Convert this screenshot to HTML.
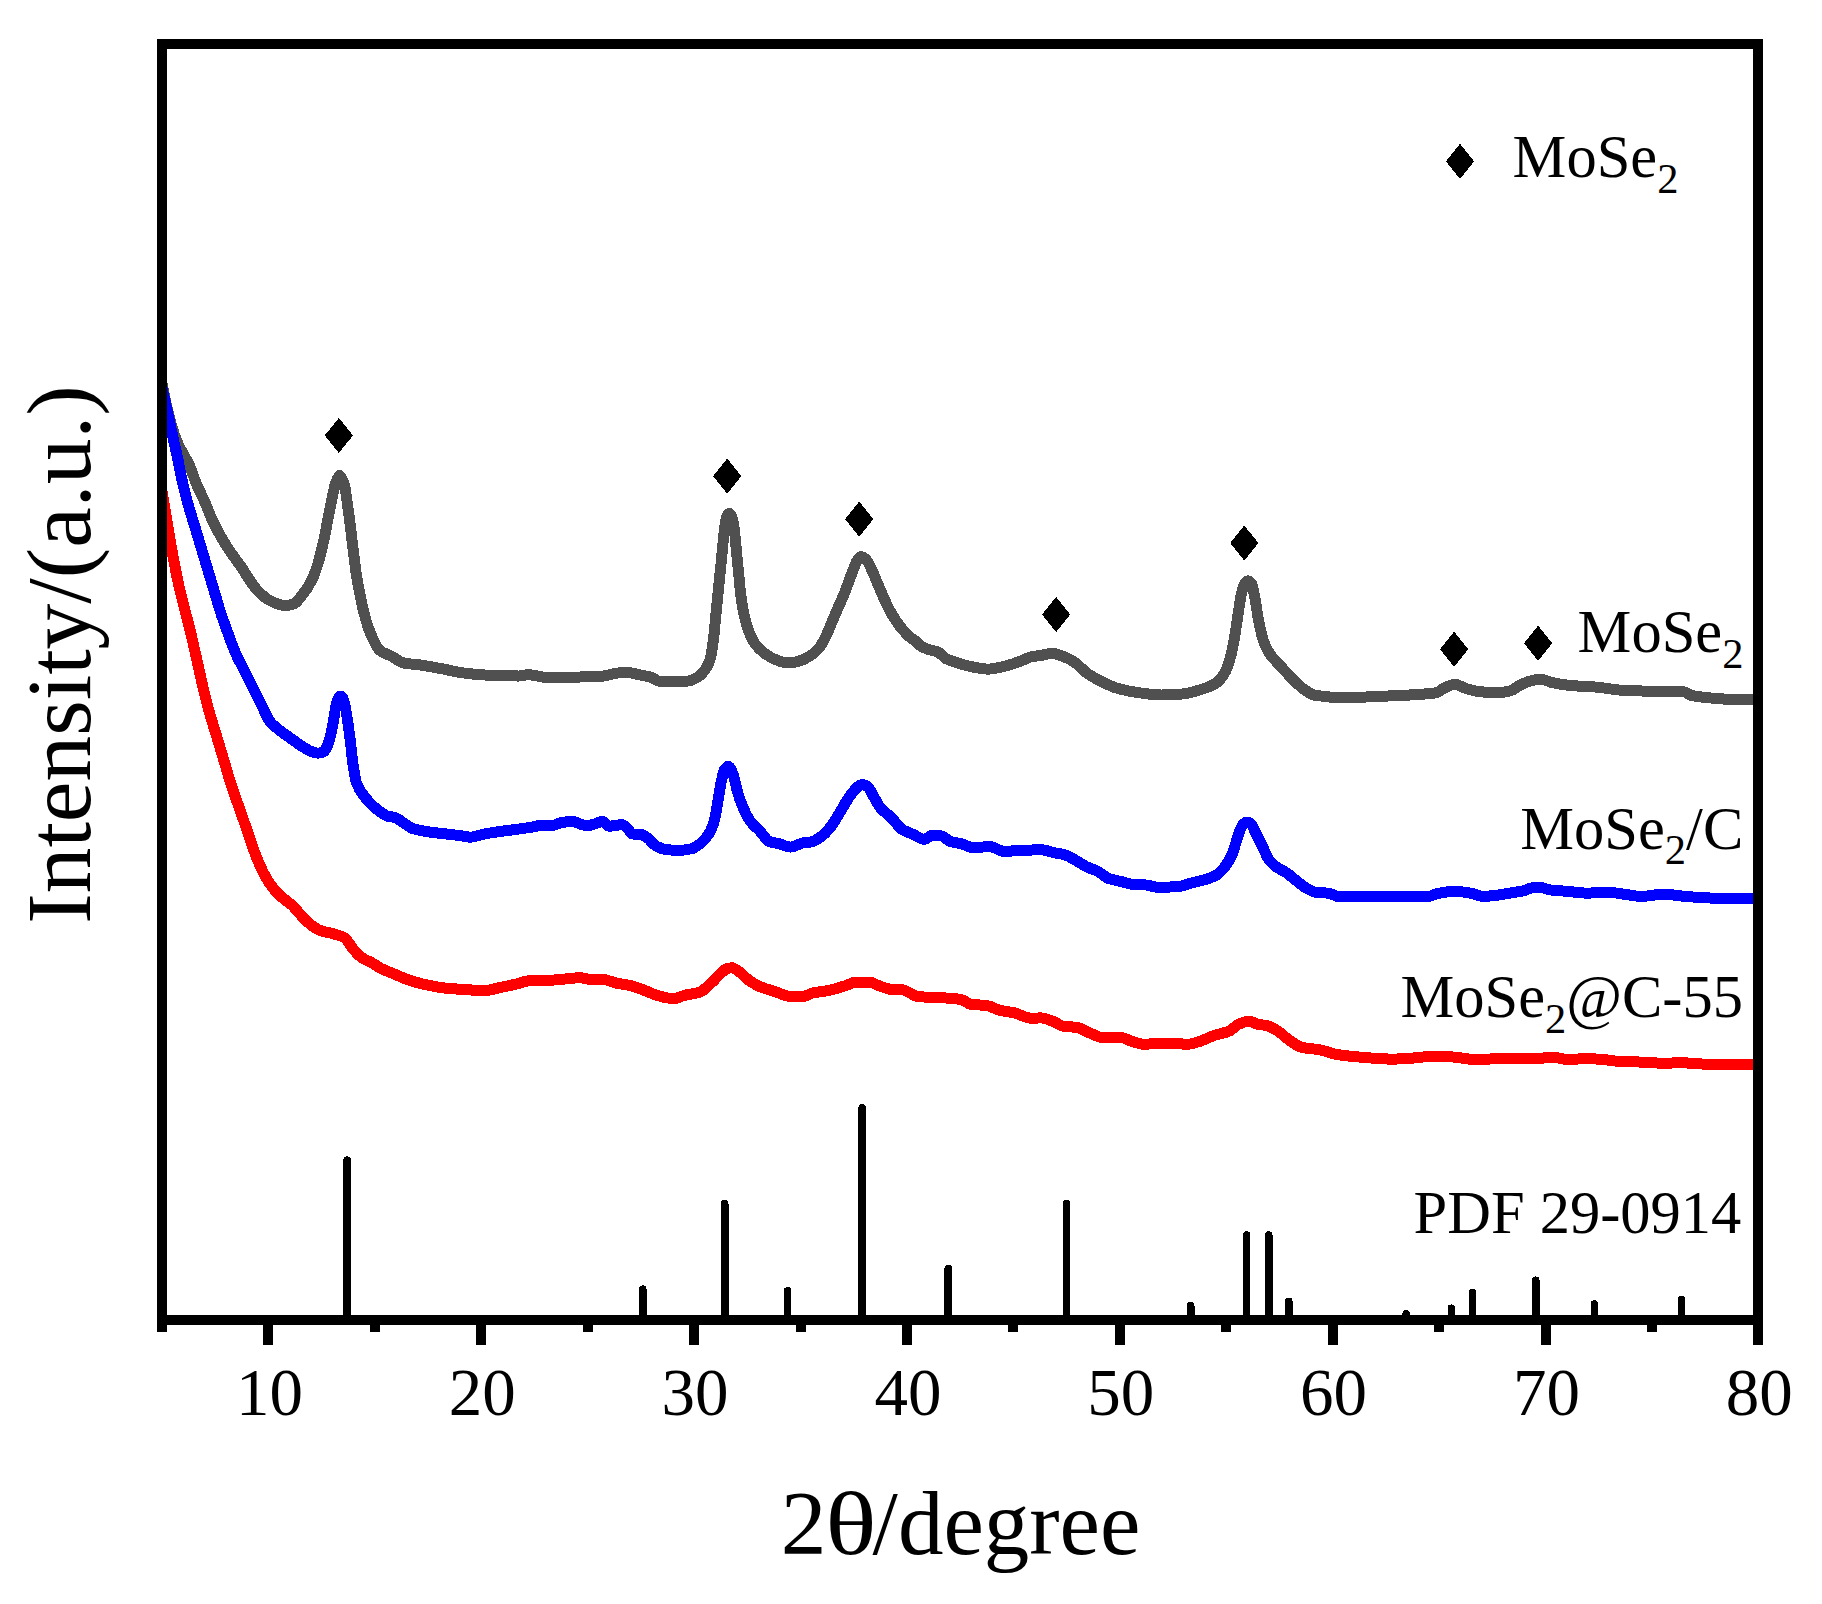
<!DOCTYPE html>
<html lang="en"><head><meta charset="utf-8"><title>XRD patterns</title>
<style>html,body{margin:0;padding:0;background:#fff}body{width:1822px;height:1604px;overflow:hidden}</style>
</head><body>
<svg width="1822" height="1604" viewBox="0 0 1822 1604" style="display:block">
<rect width="1822" height="1604" fill="#fff"/>
<defs><clipPath id="plot"><rect x="162" y="44" width="1596.3" height="1276"/></clipPath></defs>
<g clip-path="url(#plot)" shape-rendering="crispEdges">
<path d="M162.0 383.0C163.3 389.9 164.7 397.6 166.0 403.6C167.5 410.2 168.9 415.6 170.4 421.0C171.8 426.0 173.1 431.1 174.5 435.0C175.9 439.0 177.3 442.5 178.7 445.5C180.1 448.5 181.6 450.8 183.0 453.4C185.0 457.2 187.1 460.3 189.1 464.7C191.4 469.7 193.8 477.4 196.1 483.0C198.7 489.2 201.3 494.1 203.9 500.0C207.3 507.6 210.6 516.8 214.0 523.7C218.1 532.0 222.2 539.1 226.3 545.6C231.4 553.8 236.5 560.2 241.7 567.6C246.6 574.8 251.6 584.3 256.6 589.5C261.0 594.2 265.4 598.4 269.8 600.5C274.9 603.0 280.0 605.6 285.1 605.6C288.1 605.6 291.0 604.8 293.9 603.8C296.1 603.1 298.3 599.8 300.5 597.2C304.2 592.9 307.8 588.0 311.5 580.8C313.7 576.4 315.9 570.3 318.1 563.2C319.9 557.3 321.7 549.4 323.6 541.2C325.0 534.7 326.5 526.6 327.9 519.3C329.4 512.0 330.9 504.1 332.3 497.3C333.4 492.3 334.5 486.0 335.6 483.1C336.9 479.5 338.3 476.9 339.6 475.4C341.0 476.9 342.5 479.0 344.0 483.1C345.2 486.5 346.5 497.5 347.7 506.1C348.7 512.7 349.6 520.5 350.6 528.1C351.4 535.1 352.3 543.0 353.2 550.0C354.1 557.6 355.1 565.6 356.0 572.0C357.3 580.3 358.5 587.6 359.8 593.9C361.2 601.4 362.7 608.2 364.2 613.7C366.0 620.6 367.8 626.8 369.7 631.3C373.0 639.5 376.4 647.7 379.8 650.4C383.7 653.6 387.7 654.3 391.6 656.3C395.9 658.5 400.2 662.5 404.5 663.2C409.4 664.1 414.3 664.2 419.3 664.8C425.9 665.7 432.4 667.0 439.0 668.2C447.6 669.7 456.2 672.1 464.7 673.1C472.6 674.0 480.5 675.1 488.4 675.1C496.3 675.1 504.2 675.1 512.1 675.1C514.1 675.1 516.1 676.1 518.1 676.1C521.4 676.1 524.7 674.7 527.9 674.7C531.2 674.7 534.5 675.6 537.8 676.1C541.1 676.6 544.4 677.7 547.7 677.7C557.6 677.7 567.5 677.3 577.3 677.1C585.9 676.8 594.5 676.7 603.0 676.1C607.6 675.7 612.3 673.5 616.9 673.1C620.2 672.8 623.4 672.5 626.7 672.5C631.4 672.5 636.0 674.2 640.6 675.1C643.9 675.7 647.2 676.2 650.5 677.1C653.7 678.0 657.0 681.3 660.3 681.4C665.6 681.5 670.9 681.6 676.1 681.6C680.1 681.6 684.0 681.4 688.0 681.0C691.4 680.7 694.7 678.9 698.1 676.9C700.3 675.5 702.5 673.2 704.7 670.3C706.5 667.8 708.3 665.0 710.1 659.3C711.2 655.9 712.3 647.9 713.4 639.5C714.2 634.0 714.9 624.9 715.6 617.6C716.4 610.3 717.1 602.9 717.8 595.6C718.6 588.3 719.3 581.0 720.0 573.7C720.8 566.4 721.5 559.0 722.2 551.7C722.9 544.4 723.7 535.3 724.4 529.8C725.1 524.3 725.9 518.1 726.6 516.6C727.5 514.7 728.4 514.0 729.2 513.3C730.2 514.2 731.1 515.4 732.1 517.7C732.8 519.5 733.6 524.6 734.3 529.8C735.0 535.0 735.8 544.4 736.5 551.7C737.2 559.0 738.0 566.4 738.7 573.7C739.4 581.0 740.1 590.0 740.9 595.6C741.8 603.0 742.8 608.7 743.7 613.2C745.3 620.7 747.0 626.5 748.6 630.8C750.8 636.5 753.0 641.0 755.1 643.9C758.1 647.9 761.0 650.5 763.9 652.7C767.6 655.5 771.2 657.9 774.9 659.3C779.3 661.0 783.7 663.0 788.1 663.0C791.7 663.0 795.4 662.0 799.1 661.1C802.7 660.1 806.4 658.2 810.0 656.0C813.0 654.2 815.9 651.7 818.8 648.3C821.0 645.8 823.2 641.6 825.4 637.3C827.6 633.1 829.8 627.1 832.0 622.0C834.2 616.9 836.4 611.7 838.6 606.6C840.8 601.5 843.0 596.7 845.2 591.2C847.4 585.8 849.5 579.2 851.7 573.7C853.6 569.1 855.4 563.1 857.2 560.5C858.5 558.7 859.7 556.6 861.0 556.6C862.6 556.6 864.3 558.0 866.0 559.4C867.8 561.0 869.7 565.6 871.5 569.3C873.7 573.7 875.9 579.5 878.1 584.7C880.3 589.8 882.5 595.3 884.7 600.0C886.9 604.8 889.1 609.4 891.3 613.2C894.2 618.2 897.1 622.6 900.0 626.4C903.0 630.1 905.9 633.6 908.8 636.2C911.8 638.9 914.7 640.0 917.6 642.8C918.4 643.6 919.2 645.1 920.0 645.6C922.9 647.7 925.9 648.6 928.8 649.6C931.7 650.5 934.6 650.7 937.6 651.8C940.5 652.9 943.4 657.3 946.3 658.8C949.3 660.3 952.2 661.1 955.1 662.1C959.5 663.6 963.9 665.1 968.3 666.0C974.9 667.4 981.5 669.1 988.1 669.1C994.6 669.1 1001.2 667.0 1007.8 665.4C1012.2 664.3 1016.6 662.6 1021.0 661.0C1024.6 659.7 1028.3 657.3 1032.0 656.6C1034.9 656.1 1037.8 656.0 1040.7 655.5C1044.4 655.0 1048.1 653.3 1051.7 653.3C1055.4 653.3 1059.0 654.9 1062.7 656.2C1067.1 657.7 1071.5 660.2 1075.9 663.2C1079.5 665.7 1083.2 670.5 1086.8 673.1C1091.2 676.2 1095.6 678.5 1100.0 680.8C1105.9 683.7 1111.7 686.8 1117.6 688.4C1124.9 690.5 1132.2 691.9 1139.5 692.8C1146.9 693.8 1154.2 695.0 1161.5 695.0C1168.8 695.0 1176.1 694.6 1183.4 693.9C1189.3 693.4 1195.2 691.4 1201.0 689.5C1206.1 687.9 1211.3 686.4 1216.4 683.0C1219.3 681.0 1222.2 677.2 1225.2 672.0C1227.0 668.7 1228.8 663.2 1230.6 656.6C1232.1 651.3 1233.6 643.1 1235.0 634.7C1236.1 628.3 1237.2 619.6 1238.3 612.7C1239.4 605.8 1240.5 597.3 1241.6 592.9C1242.7 588.6 1243.8 584.3 1244.9 583.1C1246.0 581.9 1247.1 580.9 1248.2 580.9C1249.5 580.9 1250.7 582.3 1251.9 584.2C1253.1 585.9 1254.3 595.4 1255.5 601.7C1256.7 608.4 1257.9 617.7 1259.2 623.7C1260.7 630.7 1262.1 637.2 1263.6 641.2C1265.8 647.2 1268.0 651.2 1270.2 654.4C1273.5 659.2 1276.8 661.8 1280.0 665.4C1284.4 670.2 1288.8 675.4 1293.2 679.7C1296.9 683.2 1300.5 687.1 1304.2 689.5C1307.9 692.0 1311.6 694.8 1315.4 695.4C1324.9 696.8 1334.4 697.6 1343.9 697.6C1358.5 697.6 1373.2 696.7 1387.8 696.0C1398.8 695.6 1409.8 695.1 1420.7 694.3C1425.9 693.9 1431.0 693.7 1436.1 692.8C1439.0 692.2 1442.0 688.9 1444.9 687.7C1448.2 686.3 1451.5 684.4 1454.8 684.4C1458.8 684.4 1462.8 687.7 1466.8 688.8C1471.2 690.0 1475.6 691.2 1480.0 691.7C1484.4 692.1 1488.8 692.5 1493.2 692.5C1495.5 692.5 1497.7 692.5 1500.0 692.5C1503.5 692.5 1507.1 691.7 1510.6 690.8C1513.5 690.0 1516.5 686.9 1519.4 685.5C1523.0 683.7 1526.5 681.9 1530.0 681.1C1533.6 680.2 1537.1 679.3 1540.6 679.3C1544.8 679.3 1548.9 682.0 1553.0 682.8C1558.9 684.0 1564.8 684.9 1570.7 685.5C1579.5 686.3 1588.4 686.5 1597.2 687.2C1606.0 688.0 1614.9 690.0 1623.7 690.4C1632.5 690.8 1641.4 691.1 1650.2 691.1C1659.1 691.1 1667.9 691.1 1676.7 691.1C1679.1 691.1 1681.4 691.4 1683.8 691.7C1686.2 692.0 1688.5 694.6 1690.9 695.2C1696.8 696.7 1702.6 697.3 1708.5 697.8C1715.6 698.5 1722.7 699.1 1729.7 699.3C1737.4 699.5 1745.1 699.4 1752.7 699.6C1754.6 699.7 1756.5 699.7 1758.4 699.8" fill="none" stroke="#505050" stroke-width="11" stroke-linejoin="round" stroke-linecap="butt"/>
<path d="M162.0 388.0C163.8 396.0 165.7 403.7 167.5 412.0C169.4 420.6 171.3 429.8 173.2 438.5C174.8 445.8 176.4 452.4 178.0 460.0C179.3 466.3 180.6 474.1 182.0 480.0C183.8 488.2 185.6 495.3 187.4 502.0C189.6 510.0 191.8 516.6 194.0 523.9C196.2 531.2 198.4 538.5 200.6 545.9C202.8 553.2 205.0 560.5 207.2 567.8C209.4 575.1 211.6 582.5 213.8 589.8C216.0 597.1 218.2 605.0 220.4 611.7C222.9 619.6 225.5 626.7 228.1 633.7C230.6 640.6 233.2 647.7 235.7 653.4C238.7 660.0 241.6 665.1 244.5 671.0C247.4 676.9 250.4 682.7 253.3 688.6C256.2 694.4 259.2 700.3 262.1 706.1C264.6 711.2 267.2 718.3 269.8 721.5C273.1 725.6 276.4 727.6 279.6 730.3C283.7 733.5 287.7 736.2 291.7 739.1C295.4 741.7 299.0 744.5 302.7 746.7C305.6 748.5 308.6 750.6 311.5 751.6C313.7 752.3 315.9 753.1 318.1 753.1C319.9 753.1 321.7 752.6 323.6 751.8C325.0 751.2 326.5 747.9 327.9 744.5C329.0 742.0 330.1 737.2 331.2 732.5C332.0 729.3 332.7 725.5 333.4 721.5C334.4 716.3 335.3 707.5 336.3 703.9C337.0 701.2 337.8 698.8 338.5 697.8C339.1 696.9 339.8 696.0 340.5 696.0C341.2 696.0 341.9 697.0 342.7 698.0C343.3 698.9 344.0 701.4 344.6 703.9C345.7 707.9 346.7 714.8 347.7 721.5C348.7 727.7 349.6 735.8 350.6 743.4C351.4 750.5 352.3 759.6 353.2 765.4C354.3 772.6 355.4 780.0 356.5 783.0C359.8 791.9 363.1 794.7 366.3 798.8C369.6 802.9 372.9 806.1 376.2 808.7C380.2 811.8 384.3 815.4 388.3 816.4C390.5 816.9 392.7 816.9 394.9 817.5C397.8 818.2 400.7 821.1 403.7 822.9C406.6 824.8 409.5 827.5 412.4 828.4C417.6 830.1 422.7 830.9 427.8 831.7C435.1 832.9 442.5 833.5 449.8 834.4C453.4 834.8 457.1 835.2 460.7 835.7C464.0 836.1 467.3 837.2 470.6 837.2C474.7 837.2 478.7 835.2 482.7 834.4C487.8 833.3 492.9 832.5 498.1 831.7C503.9 830.9 509.8 830.3 515.6 829.5C521.5 828.7 527.3 827.9 533.2 826.9C536.1 826.4 539.0 825.1 542.0 825.1C544.9 825.1 547.8 825.8 550.8 825.8C554.4 825.8 558.1 823.1 561.7 822.5C565.4 822.0 569.1 821.4 572.7 821.4C574.9 821.4 577.1 822.9 579.3 823.6C581.9 824.4 584.4 825.8 587.0 825.8C589.5 825.8 592.1 824.7 594.7 824.0C597.2 823.3 599.8 821.4 602.3 821.4C604.5 821.4 606.7 826.2 608.9 826.2C610.8 826.2 612.6 825.8 614.4 825.6C617.0 825.3 619.5 824.7 622.1 824.7C623.9 824.7 625.8 826.8 627.6 828.4C629.1 829.7 630.5 833.8 632.0 833.9C634.9 834.2 637.8 834.1 640.8 834.4C643.0 834.6 645.2 836.4 647.4 837.9C650.3 839.8 653.2 844.4 656.1 846.0C659.1 847.6 662.0 848.9 664.9 849.3C669.3 849.9 673.7 850.4 678.1 850.4C682.5 850.4 686.9 849.7 691.3 848.8C694.2 848.3 697.1 846.0 700.0 843.8C703.0 841.6 705.9 838.5 708.8 833.9C710.7 831.0 712.5 827.0 714.3 820.7C715.4 817.0 716.5 809.4 717.6 803.2C718.7 797.0 719.8 788.7 720.9 783.4C722.0 778.2 723.1 772.0 724.2 770.3C725.5 768.1 726.8 766.3 728.1 766.3C729.8 766.3 731.5 770.7 733.2 774.6C734.6 778.1 736.1 787.4 737.6 792.2C739.4 798.3 741.2 803.4 743.1 807.6C745.6 813.4 748.2 818.5 750.7 821.8C753.7 825.7 756.6 827.5 759.5 830.6C762.8 834.1 766.1 840.4 769.4 841.6C772.7 842.8 776.0 843.0 779.3 843.8C782.9 844.7 786.6 847.1 790.3 847.1C794.3 847.1 798.3 844.0 802.3 843.1C805.6 842.5 808.9 842.4 812.2 841.6C815.9 840.7 819.5 837.9 823.2 835.0C826.1 832.7 829.0 829.0 832.0 825.1C834.9 821.2 837.8 815.6 840.7 810.9C843.7 806.1 846.6 800.6 849.5 796.6C852.1 793.1 854.7 789.5 857.2 787.4C858.7 786.2 860.1 784.5 861.6 784.5C863.4 784.5 865.3 785.2 867.1 786.1C869.3 787.1 871.5 793.0 873.7 796.6C875.9 800.2 878.1 804.9 880.3 807.6C883.9 812.0 887.6 813.8 891.2 817.5C894.9 821.1 898.6 827.2 902.2 829.5C905.9 831.8 909.5 832.7 913.2 834.4C916.9 836.0 920.5 839.4 924.2 839.4C927.1 839.4 930.0 835.0 933.0 835.0C935.9 835.0 938.8 835.5 941.7 836.1C944.7 836.7 947.6 840.7 950.5 841.6C954.2 842.7 957.8 842.9 961.5 843.8C965.2 844.7 968.8 847.5 972.5 847.5C978.3 847.5 984.2 846.7 990.0 846.7C995.2 846.7 1000.3 851.9 1005.4 851.9C1009.1 851.9 1012.7 850.5 1016.4 850.4C1025.2 850.1 1033.9 849.9 1042.7 849.9C1046.4 849.9 1050.0 851.8 1053.7 852.6C1057.4 853.4 1061.0 853.7 1064.7 854.8C1068.3 855.8 1072.0 858.3 1075.7 860.3C1079.3 862.3 1083.0 865.1 1086.6 866.8C1090.3 868.6 1093.9 869.4 1097.6 871.2C1101.3 873.1 1104.9 877.2 1108.6 878.5C1113.0 880.1 1117.5 880.6 1122.0 881.7C1125.6 882.6 1129.3 884.0 1132.9 884.4C1137.3 884.7 1141.7 884.7 1146.1 885.0C1149.8 885.3 1153.4 887.2 1157.1 887.2C1163.7 887.2 1170.3 887.1 1176.8 886.8C1182.0 886.6 1187.1 884.1 1192.2 882.8C1196.6 881.7 1201.0 880.9 1205.4 879.5C1209.0 878.4 1212.7 877.3 1216.4 875.1C1219.3 873.4 1222.2 870.1 1225.1 866.4C1227.3 863.6 1229.5 860.2 1231.7 855.4C1233.2 852.2 1234.7 846.6 1236.1 842.2C1237.6 837.8 1239.0 832.1 1240.5 829.0C1241.6 826.7 1242.7 824.3 1243.8 823.5C1244.9 822.7 1246.0 822.0 1247.1 822.0C1248.6 822.0 1250.0 823.3 1251.5 824.6C1252.9 826.0 1254.4 830.5 1255.9 833.4C1258.1 837.8 1260.3 842.2 1262.5 846.6C1264.7 851.0 1266.8 856.8 1269.0 859.8C1271.2 862.7 1273.4 864.7 1275.6 866.4C1279.3 869.2 1282.9 870.4 1286.6 872.9C1290.3 875.5 1293.9 879.0 1297.6 881.7C1301.2 884.5 1304.9 887.6 1308.6 889.4C1311.5 890.8 1314.4 892.5 1317.3 892.7C1321.0 893.0 1324.7 892.9 1328.3 893.1C1332.0 893.4 1335.6 896.7 1339.3 896.7C1347.3 896.7 1355.4 896.7 1363.4 896.7C1375.6 896.7 1387.8 896.4 1400.0 896.4C1408.8 896.4 1417.6 896.8 1426.3 896.8C1430.7 896.8 1435.1 893.8 1439.5 893.1C1444.6 892.2 1449.8 891.3 1454.9 891.3C1460.0 891.3 1465.1 892.3 1470.3 893.1C1474.6 893.8 1479.0 896.4 1483.4 896.4C1487.8 896.4 1492.2 895.7 1496.6 895.3C1501.0 894.8 1505.4 893.8 1509.8 893.1C1514.2 892.3 1518.6 891.9 1522.9 890.9C1525.9 890.2 1528.8 888.5 1531.7 888.0C1534.3 887.6 1536.8 887.1 1539.4 887.1C1542.7 887.1 1546.0 889.3 1549.3 889.8C1555.1 890.6 1561.0 890.8 1566.8 891.3C1573.4 891.9 1580.0 893.1 1586.6 893.1C1593.9 893.1 1601.2 892.4 1608.6 892.4C1613.7 892.4 1618.8 893.5 1623.9 894.2C1629.8 894.9 1635.6 896.4 1641.5 896.4C1648.8 896.4 1656.1 894.2 1663.4 894.2C1670.8 894.2 1678.1 895.8 1685.4 896.4C1692.7 897.0 1700.0 897.6 1707.4 897.9C1714.7 898.2 1722.0 898.6 1729.3 898.6C1737.4 898.6 1745.4 898.1 1753.5 898.1C1755.1 898.1 1756.7 898.1 1758.3 898.1" fill="none" stroke="#0000ff" stroke-width="11" stroke-linejoin="round" stroke-linecap="butt"/>
<path d="M162.0 491.0C165.9 514.0 169.8 539.1 173.7 560.0C175.4 568.9 177.0 577.5 178.7 584.9C180.8 594.2 182.9 601.6 184.9 609.9C187.0 618.2 189.1 626.1 191.2 634.8C193.1 642.8 195.0 651.3 196.9 659.8C198.7 667.9 200.6 676.9 202.4 684.7C204.5 693.5 206.6 702.0 208.6 709.6C211.1 718.7 213.6 726.3 216.1 734.6C218.6 742.9 221.1 751.2 223.6 759.5C226.1 767.8 228.6 776.8 231.1 784.4C234.0 793.4 236.9 801.1 239.8 809.4C242.7 817.7 245.6 826.0 248.5 834.3C251.4 842.6 254.3 852.4 257.3 859.3C261.0 868.1 264.7 876.0 268.5 881.7C272.2 887.4 276.0 891.8 279.7 895.4C283.9 899.4 288.0 901.6 292.2 905.4C297.2 910.0 302.1 917.4 307.1 921.6C311.3 925.1 315.4 928.8 319.6 930.3C324.6 932.2 329.6 932.5 334.6 934.1C337.9 935.1 341.2 935.8 344.5 937.8C347.4 939.5 350.3 945.8 353.2 949.0C356.1 952.4 359.0 955.9 362.0 957.8C364.9 959.8 367.8 960.6 370.8 962.2C374.4 964.2 378.1 967.0 381.7 968.8C386.1 971.0 390.5 972.5 394.9 974.3C399.3 976.1 403.7 978.3 408.1 979.8C413.2 981.5 418.3 983.0 423.4 984.2C430.8 985.8 438.1 987.4 445.4 988.1C452.7 988.9 460.0 989.2 467.4 989.7C472.8 990.0 478.3 990.8 483.8 990.8C489.3 990.8 494.8 988.6 500.3 987.5C505.4 986.4 510.5 985.4 515.7 984.2C520.0 983.2 524.4 980.9 528.8 980.9C533.9 980.9 539.1 980.9 544.2 980.9C549.5 980.9 554.7 979.7 560.0 979.3C562.8 979.1 565.5 979.0 568.3 978.8C572.0 978.5 575.6 977.7 579.3 977.7C583.0 977.7 586.6 979.1 590.3 979.3C594.7 979.4 599.1 979.3 603.4 979.5C607.8 979.6 612.2 982.3 616.6 983.2C621.0 984.1 625.4 984.4 629.8 985.4C634.2 986.4 638.6 988.2 643.0 989.8C646.6 991.1 650.3 992.9 653.9 994.2C657.6 995.4 661.3 996.8 664.9 997.5C667.8 998.0 670.8 998.6 673.7 998.6C677.4 998.6 681.0 996.2 684.7 995.3C689.8 994.0 694.9 993.8 700.0 992.0C703.7 990.7 707.4 986.5 711.0 983.2C713.9 980.6 716.9 977.1 719.8 974.4C722.0 972.4 724.2 969.6 726.4 968.9C728.2 968.4 730.0 967.8 731.9 967.8C734.5 967.8 737.1 970.4 739.8 972.2C742.7 974.2 745.6 977.8 748.5 979.9C752.2 982.5 755.9 984.9 759.5 986.5C764.6 988.7 769.8 989.9 774.9 991.5C780.0 993.2 785.1 996.4 790.3 996.4C794.6 996.4 799.0 996.4 803.4 996.4C806.4 996.4 809.3 993.8 812.2 993.1C818.1 991.7 823.9 991.5 829.8 990.2C834.9 989.2 840.0 987.4 845.1 985.8C848.8 984.7 852.5 982.1 856.1 982.1C860.5 982.1 864.9 982.1 869.3 982.1C872.2 982.1 875.1 984.4 878.1 985.4C882.5 986.9 886.8 989.0 891.2 989.4C894.9 989.6 898.6 989.5 902.2 989.8C907.3 990.1 912.5 995.7 917.6 996.4C922.0 997.0 926.4 997.2 930.8 997.5C936.6 997.8 942.5 997.8 948.3 998.1C952.7 998.4 957.1 998.8 961.5 999.7C964.4 1000.2 967.3 1003.5 970.3 1004.1C976.1 1005.1 982.0 1004.8 987.8 1005.8C991.5 1006.4 995.2 1009.1 998.8 1010.0C1003.9 1011.3 1009.1 1011.7 1014.2 1012.8C1020.0 1014.2 1025.9 1018.3 1031.7 1018.3C1034.7 1018.3 1037.6 1017.9 1040.5 1017.9C1044.9 1017.9 1049.3 1020.0 1053.7 1021.6C1056.6 1022.7 1059.6 1025.5 1062.5 1026.0C1067.6 1026.9 1072.7 1026.7 1077.8 1027.6C1081.5 1028.2 1085.2 1031.0 1088.8 1032.6C1091.8 1033.9 1094.7 1035.2 1097.6 1036.3C1098.4 1036.6 1099.2 1037.2 1100.0 1037.2C1106.6 1037.2 1113.2 1037.2 1119.8 1037.2C1123.4 1037.2 1127.1 1039.8 1130.7 1040.9C1135.1 1042.2 1139.5 1044.2 1143.9 1044.2C1151.2 1044.2 1158.5 1043.1 1165.9 1043.1C1173.2 1043.1 1180.5 1044.2 1187.8 1044.2C1192.2 1044.2 1196.6 1042.3 1201.0 1040.9C1205.4 1039.5 1209.8 1036.9 1214.2 1035.4C1219.3 1033.7 1224.4 1033.2 1229.5 1031.0C1232.5 1029.7 1235.4 1025.7 1238.3 1024.4C1242.0 1022.8 1245.6 1021.1 1249.3 1021.1C1252.2 1021.1 1255.1 1023.9 1258.1 1024.4C1261.0 1025.0 1263.9 1024.9 1266.8 1025.5C1270.5 1026.2 1274.2 1028.8 1277.8 1031.0C1281.5 1033.3 1285.1 1037.3 1288.8 1039.8C1293.2 1042.8 1297.6 1046.5 1302.0 1047.5C1307.8 1048.7 1313.7 1048.7 1319.5 1049.7C1325.4 1050.7 1331.2 1053.6 1337.1 1054.5C1345.9 1055.9 1354.7 1056.7 1363.4 1057.4C1373.0 1058.1 1382.5 1059.1 1392.0 1059.1C1400.5 1059.1 1409.0 1058.4 1417.6 1057.7C1422.0 1057.4 1426.3 1056.2 1430.7 1056.2C1438.8 1056.2 1446.8 1056.6 1454.9 1057.1C1460.7 1057.4 1466.6 1059.3 1472.4 1059.3C1481.2 1059.3 1490.0 1059.0 1498.8 1058.8C1506.1 1058.7 1513.4 1058.4 1520.7 1058.4C1525.9 1058.4 1531.0 1058.8 1536.1 1058.8C1541.2 1058.8 1546.4 1057.1 1551.5 1057.1C1556.6 1057.1 1561.7 1059.3 1566.8 1059.3C1573.4 1059.3 1580.0 1058.8 1586.6 1058.8C1591.7 1058.8 1596.9 1059.0 1602.0 1059.3C1606.4 1059.5 1610.8 1060.7 1615.1 1061.0C1623.9 1061.6 1632.7 1061.7 1641.5 1062.1C1648.8 1062.4 1656.1 1063.2 1663.4 1063.2C1669.3 1063.2 1675.2 1062.8 1681.0 1062.8C1689.8 1062.8 1698.6 1064.0 1707.4 1064.3C1714.7 1064.5 1722.0 1064.7 1729.3 1064.7C1737.4 1064.7 1745.4 1064.3 1753.5 1064.3C1755.1 1064.3 1756.7 1064.3 1758.3 1064.3" fill="none" stroke="#ff0000" stroke-width="11" stroke-linejoin="round" stroke-linecap="butt"/>
</g>
<g shape-rendering="crispEdges">
<line x1="347.2" y1="1160.2" x2="347.2" y2="1320" stroke="#000" stroke-width="7.6" stroke-linecap="round"/>
<line x1="642.8" y1="1289.2" x2="642.8" y2="1320" stroke="#000" stroke-width="7.6" stroke-linecap="round"/>
<line x1="724.7" y1="1203.6" x2="724.7" y2="1320" stroke="#000" stroke-width="7.6" stroke-linecap="round"/>
<line x1="787.6" y1="1290.9" x2="787.6" y2="1320" stroke="#000" stroke-width="7.6" stroke-linecap="round"/>
<line x1="862.2" y1="1107.9" x2="862.2" y2="1320" stroke="#000" stroke-width="7.6" stroke-linecap="round"/>
<line x1="948.2" y1="1268.5" x2="948.2" y2="1320" stroke="#000" stroke-width="7.6" stroke-linecap="round"/>
<line x1="1066.3" y1="1203.6" x2="1066.3" y2="1320" stroke="#000" stroke-width="7.6" stroke-linecap="round"/>
<line x1="1190.7" y1="1305.6" x2="1190.7" y2="1320" stroke="#000" stroke-width="7.6" stroke-linecap="round"/>
<line x1="1246.6" y1="1235.0" x2="1246.6" y2="1320" stroke="#000" stroke-width="7.6" stroke-linecap="round"/>
<line x1="1268.7" y1="1235.0" x2="1268.7" y2="1320" stroke="#000" stroke-width="7.6" stroke-linecap="round"/>
<line x1="1288.8" y1="1301.3" x2="1288.8" y2="1320" stroke="#000" stroke-width="7.6" stroke-linecap="round"/>
<line x1="1406.2" y1="1314.0" x2="1406.2" y2="1320" stroke="#000" stroke-width="7.6" stroke-linecap="round"/>
<line x1="1451.4" y1="1308.2" x2="1451.4" y2="1320" stroke="#000" stroke-width="7.6" stroke-linecap="round"/>
<line x1="1472.5" y1="1292.6" x2="1472.5" y2="1320" stroke="#000" stroke-width="7.6" stroke-linecap="round"/>
<line x1="1535.7" y1="1280.2" x2="1535.7" y2="1320" stroke="#000" stroke-width="7.6" stroke-linecap="round"/>
<line x1="1594.4" y1="1304.0" x2="1594.4" y2="1320" stroke="#000" stroke-width="7.6" stroke-linecap="round"/>
<line x1="1681.4" y1="1299.6" x2="1681.4" y2="1320" stroke="#000" stroke-width="7.6" stroke-linecap="round"/>
<rect x="162" y="44" width="1596.3" height="1276" fill="none" stroke="#000" stroke-width="10"/>
<rect x="157.0" y="1320" width="10" height="11.7" fill="#000"/>
<rect x="263.4" y="1320" width="10" height="24.5" fill="#000"/>
<rect x="369.8" y="1320" width="10" height="11.7" fill="#000"/>
<rect x="476.3" y="1320" width="10" height="24.5" fill="#000"/>
<rect x="582.7" y="1320" width="10" height="11.7" fill="#000"/>
<rect x="689.1" y="1320" width="10" height="24.5" fill="#000"/>
<rect x="795.5" y="1320" width="10" height="11.7" fill="#000"/>
<rect x="901.9" y="1320" width="10" height="24.5" fill="#000"/>
<rect x="1008.4" y="1320" width="10" height="11.7" fill="#000"/>
<rect x="1114.8" y="1320" width="10" height="24.5" fill="#000"/>
<rect x="1221.2" y="1320" width="10" height="11.7" fill="#000"/>
<rect x="1327.6" y="1320" width="10" height="24.5" fill="#000"/>
<rect x="1434.0" y="1320" width="10" height="11.7" fill="#000"/>
<rect x="1540.5" y="1320" width="10" height="24.5" fill="#000"/>
<rect x="1646.9" y="1320" width="10" height="11.7" fill="#000"/>
<rect x="1753.3" y="1320" width="10" height="24.5" fill="#000"/>
<polygon points="324.8,435.4 338.9,417.8 353.0,435.4 338.9,453.0" fill="#000"/>
<polygon points="713.1,476.1 727.2,458.5 741.3,476.1 727.2,493.7" fill="#000"/>
<polygon points="845.1,519.2 859.2,501.6 873.3,519.2 859.2,536.8" fill="#000"/>
<polygon points="1042.0,614.5 1056.1,596.9 1070.2,614.5 1056.1,632.1" fill="#000"/>
<polygon points="1230.2,543.1 1244.3,525.5 1258.4,543.1 1244.3,560.7" fill="#000"/>
<polygon points="1440.0,649.3 1454.1,631.7 1468.2,649.3 1454.1,666.9" fill="#000"/>
<polygon points="1524.0,643.2 1538.1,625.6 1552.2,643.2 1538.1,660.8" fill="#000"/>
<polygon points="1445.9,161.4 1460.0,143.8 1474.1,161.4 1460.0,179.0" fill="#000"/>
</g>
<g font-family="'Liberation Serif', serif" fill="#000">
<text x="269.4" y="1414.5" font-size="67" text-anchor="middle">10</text>
<text x="482.3" y="1414.5" font-size="67" text-anchor="middle">20</text>
<text x="695.1" y="1414.5" font-size="67" text-anchor="middle">30</text>
<text x="907.9" y="1414.5" font-size="67" text-anchor="middle">40</text>
<text x="1120.8" y="1414.5" font-size="67" text-anchor="middle">50</text>
<text x="1333.6" y="1414.5" font-size="67" text-anchor="middle">60</text>
<text x="1546.5" y="1414.5" font-size="67" text-anchor="middle">70</text>
<text x="1759.3" y="1414.5" font-size="67" text-anchor="middle">80</text>
<text x="780.8" y="1553.8" font-size="91.5">2<tspan x="825.3" font-size="88.3" textLength="51.3" lengthAdjust="spacingAndGlyphs">θ</tspan><tspan x="872.6" font-size="91">/degree</tspan></text>
<text transform="translate(89.7 654.5) rotate(-90)" font-size="91.5" text-anchor="middle">Intensity/(a.u.)</text>
<text x="1512.6" y="177.4" font-size="60.5">MoSe<tspan font-size="42.5" dy="15.4">2</tspan></text>
<text x="1577.6" y="652.3" font-size="60.5">MoSe<tspan font-size="42.5" dy="15.4">2</tspan></text>
<text x="1520.3" y="848.7" font-size="60.5">MoSe<tspan font-size="42.5" dy="15.4">2</tspan><tspan dy="-15.4">/C</tspan></text>
<text x="1400.5" y="1017.2" font-size="60.5">MoSe<tspan font-size="42.5" dy="15.4">2</tspan><tspan dy="-15.4">@C-55</tspan></text>
<text x="1413.6" y="1233" font-size="60.5">PDF 29-0914</text>
</g>
</svg>
</body></html>
